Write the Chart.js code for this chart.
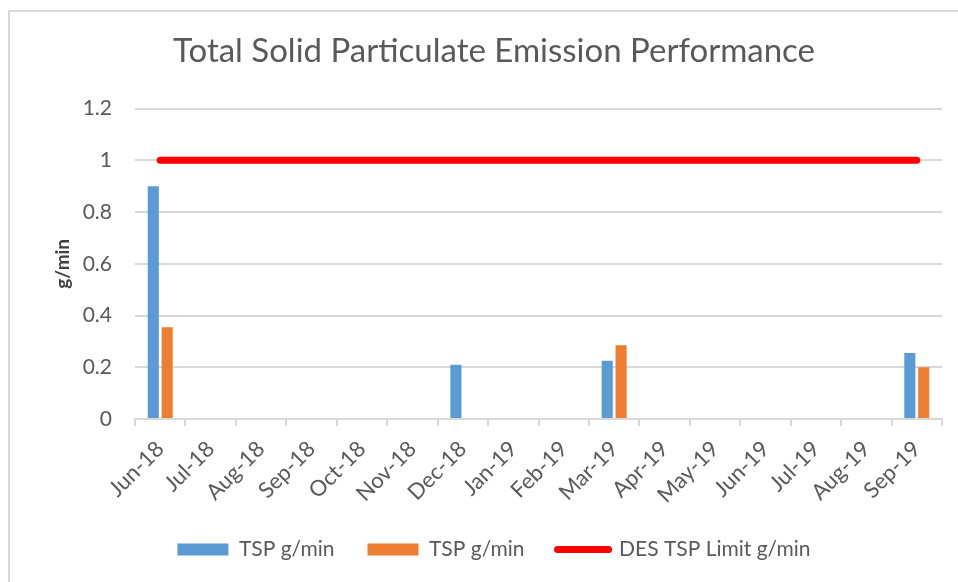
<!DOCTYPE html>
<html>
<head>
<meta charset="utf-8">
<script src="https://cdn.jsdelivr.net/npm/chart.js@4.4.1/dist/chart.umd.min.js"></script>
<style>
  html, body { margin: 0; padding: 0; background: #ffffff; }
  #wrap { position: relative; width: 958px; height: 582px; }
  #frame { position: absolute; left: 8px; top: 10px; right: -10px; bottom: -10px; border-left: 2px solid #d9d9d9; border-top: 2px solid #d9d9d9; pointer-events: none; }
  canvas { position: absolute; left: 0; top: 0; }
</style>
</head>
<body>
<div id="wrap">
  <canvas id="c" width="958" height="582"></canvas>
  <div id="frame"></div>
</div>
<script>
const categories = ["Jun-18","Jul-18","Aug-18","Sep-18","Oct-18","Nov-18","Dec-18","Jan-19","Feb-19","Mar-19","Apr-19","May-19","Jun-19","Jul-19","Aug-19","Sep-19"];
const tspSeries1 = [0.9, null, null, null, null, null, 0.21, null, null, 0.225, null, null, null, null, null, 0.255];
const tspSeries2 = [0.355, null, null, null, null, null, null, null, null, 0.285, null, null, null, null, null, 0.2];
const desLimit = [1, 1, 1, 1, 1, 1, 1, 1, 1, 1, 1, 1, 1, 1, 1, 1];
const yTicks = [0, 0.2, 0.4, 0.6, 0.8, 1, 1.2];
const seriesNames = ["TSP g/min", "TSP g/min", "DES TSP Limit g/min"];

const FONT = "Lato, 'Open Sans', 'Liberation Sans', sans-serif";
const GREY = "#595959";

new Chart(document.getElementById('c'), {
  type: 'bar',
  data: {
    labels: categories,
    datasets: [
      { label: seriesNames[0], data: tspSeries1, backgroundColor: '#5b9bd5', categoryPercentage: 0.55, barPercentage: 0.8, order: 2 },
      { label: seriesNames[1], data: tspSeries2, backgroundColor: '#ed7d31', categoryPercentage: 0.55, barPercentage: 0.8, order: 2 },
      { type: 'line', label: seriesNames[2], data: desLimit, borderColor: '#ff0000', backgroundColor: '#ff0000', borderWidth: 7, pointRadius: 0, borderCapStyle: 'round', tension: 0, order: 1 }
    ]
  },
  options: {
    responsive: false,
    animation: false,
    layout: { padding: { left: 46, right: 16, top: 0, bottom: 12 } },
    plugins: {
      title: {
        display: true,
        text: 'Total Solid Particulate Emission Performance',
        color: GREY,
        font: { family: FONT, size: 33, weight: 'normal' },
        padding: { top: 32, bottom: 37 }
      },
      legend: {
        position: 'bottom',
        labels: {
          color: GREY,
          font: { family: FONT, size: 21 },
          usePointStyle: true,
          pointStyleWidth: 51,
          boxHeight: 12,
          padding: 33,
          generateLabels(chart) {
            return chart.data.datasets.map((ds, i) => ({
              text: ds.label,
              fillStyle: ds.type === 'line' ? '#ff0000' : ds.backgroundColor,
              strokeStyle: ds.type === 'line' ? '#ff0000' : ds.backgroundColor,
              lineWidth: ds.type === 'line' ? 7 : 0,
              lineCap: 'round',
              pointStyle: ds.type === 'line' ? 'line' : 'rect',
              fontColor: GREY,
              hidden: false,
              datasetIndex: i
            }));
          }
        }
      },
      tooltip: { enabled: false }
    },
    scales: {
      x: {
        offset: true,
        grid: { display: true, offset: true, drawOnChartArea: false, color: '#d9d9d9', lineWidth: 2, tickLength: 7 },
        border: { display: true, color: '#d9d9d9', width: 2 },
        ticks: { color: GREY, font: { family: FONT, size: 22 }, maxRotation: 45, minRotation: 45, autoSkip: false, padding: 10 },
        afterFit(scale) { scale.height = 87; }
      },
      y: {
        min: 0,
        max: 1.2,
        afterBuildTicks(scale) { scale.ticks = yTicks.map(v => ({ value: v })); },
        grid: { color: '#d9d9d9', lineWidth: 2, drawTicks: false },
        border: { display: false },
        ticks: {
          color: GREY,
          font: { family: FONT, size: 21 },
          padding: 23,
          callback: (v) => String(Math.round(v * 10) / 10)
        },
        title: {
          display: true,
          text: 'g/min',
          color: '#404040',
          font: { family: FONT, size: 19, weight: 'bold' },
          padding: { top: 5, bottom: 0 }
        },
        afterFit(scale) { scale.width = 89; }
      }
    }
  }
});
</script>
</body>
</html>
